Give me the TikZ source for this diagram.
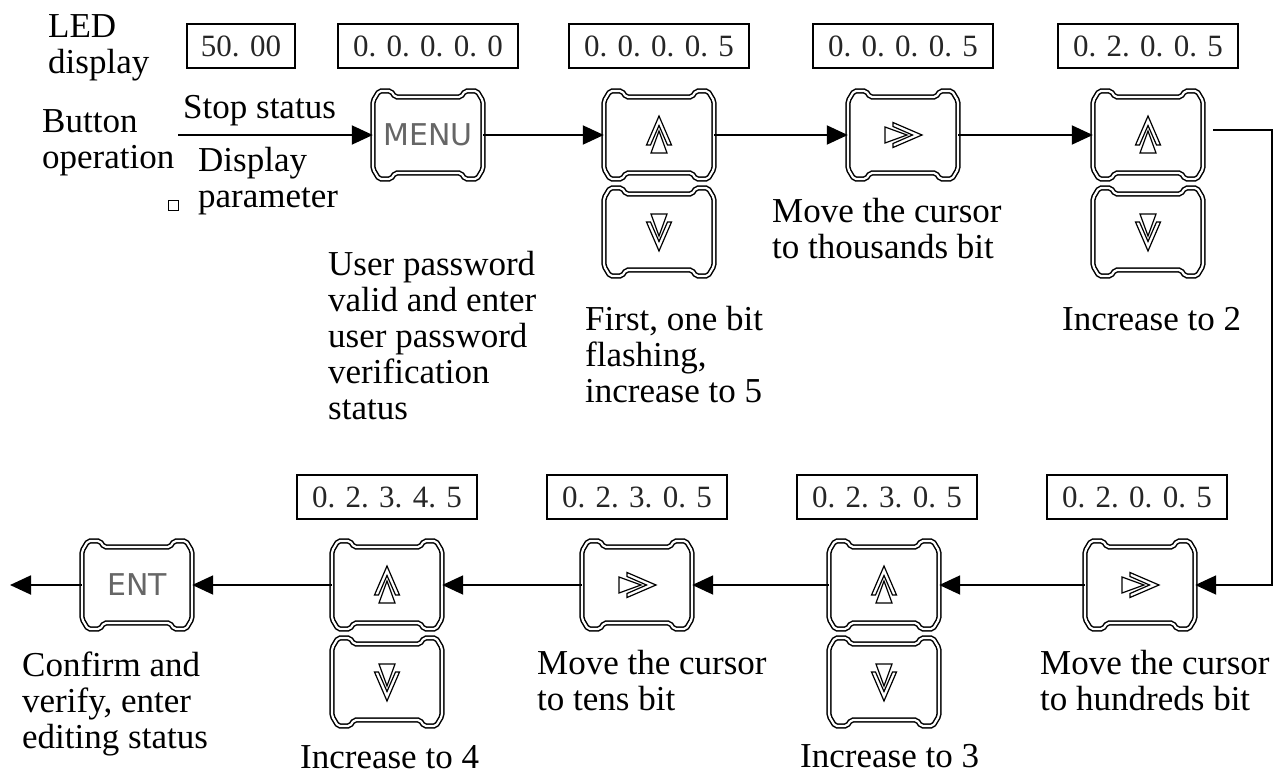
\documentclass[tikz,border=0pt]{standalone}
\usepackage{fontspec}
\setmainfont{Liberation Serif}
\newfontfamily\keyfont{DejaVu Sans}
\usetikzlibrary{arrows.meta}
\tikzset{
  keyframe/.pic={
    \draw[line width=1.5pt, double, double distance=2.2pt, rounded corners=2pt]
      (-55,-34) -- (-49,-44) -- (-37,-44) -- (-33,-38) -- (33,-38) -- (37,-44) -- (49,-44) -- (55,-34)
      -- (55,34) -- (49,44) -- (37,44) -- (33,38) -- (-33,38) -- (-37,44) -- (-49,44) -- (-55,34) -- cycle;
  },
  arrowicon/.pic={
    \draw[line width=1.2pt, line join=miter] (0,-19) -- (12.5,10) -- (8.5,10) -- (0,-9.5) -- (-8.5,10) -- (-12.5,10) -- cycle;
    \draw[line width=1.2pt, fill=white] (0,-4) -- (8,18) -- (-8,18) -- cycle;
  },
}
\begin{document}
\begin{tikzpicture}[x=1pt,y=-1pt,
  lbl/.style={font=\fontsize{35pt}{36pt}\selectfont, inner sep=0pt, anchor=base west, align=left},
  ledbox/.style={draw, line width=1.7pt, minimum height=44pt, inner sep=0pt, font=\fontsize{31pt}{31pt}\selectfont, text=black!85},
  keynode/.style={minimum width=110pt, minimum height=88pt, inner sep=0pt, font=\keyfont\fontsize{30pt}{30pt}\selectfont, text=black!60},
  arr/.style={line width=1.9pt, -{Triangle[length=21pt,width=19pt]}},
]
\useasboundingbox (0,0) rectangle (1282,776);

% left labels (anchor = baseline of last line)
\node[lbl] (led) at (48,74) {LED\\display};
\node[lbl] (btn) at (42,168) {Button\\operation};
\node[lbl] (stop) at (183,118) {Stop status};
\node[lbl] (disp) at (198,207) {Display\\parameter};
\node[draw, line width=1pt, minimum size=10pt, inner sep=0pt] (sq) at (173,205) {};

% LED boxes top
\node[ledbox, minimum width=108pt] (l1) at (241,46) {50. 00};
\node[ledbox, minimum width=180pt] (l2) at (428,46) {0. 0. 0. 0. 0};
\node[ledbox, minimum width=180pt] (l3) at (659,46) {0. 0. 0. 0. 5};
\node[ledbox, minimum width=180pt] (l4) at (903,46) {0. 0. 0. 0. 5};
\node[ledbox, minimum width=180pt] (l5) at (1148,46) {0. 2. 0. 0. 5};

% LED boxes bottom
\node[ledbox, minimum width=180pt] (m1) at (387,497) {0. 2. 3. 4. 5};
\node[ledbox, minimum width=180pt] (m2) at (637,497) {0. 2. 3. 0. 5};
\node[ledbox, minimum width=180pt] (m3) at (887,497) {0. 2. 3. 0. 5};
\node[ledbox, minimum width=180pt] (m4) at (1137,497) {0. 2. 0. 0. 5};

% keys top row
\node[keynode] (menu) at (428,135) {MENU}; \pic at (menu) {keyframe};
\node[keynode] (up1) at (659,135) {}; \pic at (up1) {keyframe}; \pic at (up1) {arrowicon};
\node[keynode] (dn1) at (659,232) {}; \pic at (dn1) {keyframe}; \pic[rotate=180] at (dn1) {arrowicon};
\node[keynode] (rt1) at (903,135) {}; \pic at (rt1) {keyframe}; \pic[rotate=-90] at (rt1) {arrowicon};
\node[keynode] (up2) at (1148,135) {}; \pic at (up2) {keyframe}; \pic at (up2) {arrowicon};
\node[keynode] (dn2) at (1148,232) {}; \pic at (dn2) {keyframe}; \pic[rotate=180] at (dn2) {arrowicon};

% keys bottom row
\node[keynode] (rt2) at (1140,585) {}; \pic at (rt2) {keyframe}; \pic[rotate=-90] at (rt2) {arrowicon};
\node[keynode] (up3) at (884,585) {}; \pic at (up3) {keyframe}; \pic at (up3) {arrowicon};
\node[keynode] (dn3) at (884,682) {}; \pic at (dn3) {keyframe}; \pic[rotate=180] at (dn3) {arrowicon};
\node[keynode] (rt3) at (637,585) {}; \pic at (rt3) {keyframe}; \pic[rotate=-90] at (rt3) {arrowicon};
\node[keynode] (up4) at (387,585) {}; \pic at (up4) {keyframe}; \pic at (up4) {arrowicon};
\node[keynode] (dn4) at (387,682) {}; \pic at (dn4) {keyframe}; \pic[rotate=180] at (dn4) {arrowicon};
\node[keynode] (ent) at (137,585) {ENT}; \pic at (ent) {keyframe};

% connectors
\coordinate (start) at (178,135);
\coordinate (vline) at (1272,130);
\coordinate (finish) at (10,585);
\draw[arr] (start) -- (menu.west);
\draw[arr] (menu.east) -- (up1.west);
\draw[arr] (up1.east) -- (rt1.west);
\draw[arr] (rt1.east) -- (up2.west);
\draw[arr] ([xshift=10pt,yshift=5pt]up2.east) -- (vline) |- (rt2.east);
\draw[arr] (rt2.west) -- (up3.east);
\draw[arr] (up3.west) -- (rt3.east);
\draw[arr] (rt3.west) -- (up4.east);
\draw[arr] (up4.west) -- (ent.east);
\draw[arr] (ent.west) -- (finish);

% descriptions (anchor = baseline of last line)
\node[lbl] (t1) at (328,419) {User password\\valid and enter\\user password\\verification\\status};
\node[lbl] (t2) at (585,402) {First, one bit\\flashing,\\increase to 5};
\node[lbl] (t3) at (772,258) {Move the cursor\\to thousands bit};
\node[lbl] (t4) at (1062,330) {Increase to 2};
\node[lbl] (t5) at (22,748) {Confirm and\\verify, enter\\editing status};
\node[lbl] (t6) at (300,768) {Increase to 4};
\node[lbl] (t7) at (537,710) {Move the cursor\\to tens bit};
\node[lbl] (t8) at (800,767) {Increase to 3};
\node[lbl] (t9) at (1040,710) {Move the cursor\\to hundreds bit};
\end{tikzpicture}
\end{document}
